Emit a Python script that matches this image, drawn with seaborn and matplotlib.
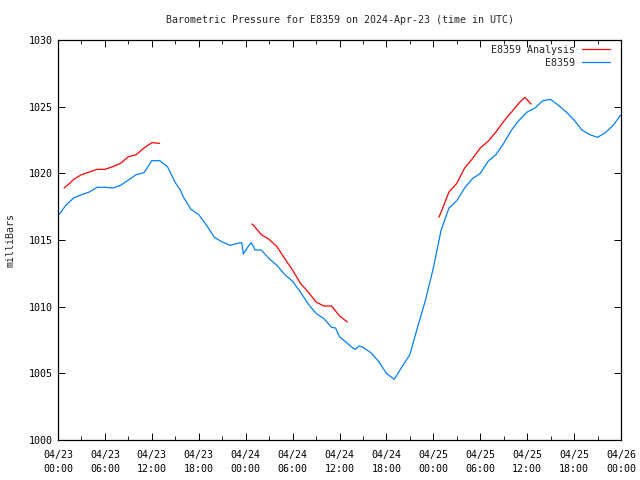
import matplotlib
matplotlib.use("Agg")
import matplotlib.pyplot as plt
from matplotlib.lines import Line2D
import seaborn as sns
import pandas as pd
import numpy as np

# ---- data (hours since 2024-04-23 00:00 UTC) ----
obs_hours = [0, 1, 2, 3, 4, 5, 6, 7, 8, 9, 10, 11, 12, 13, 14, 15, 15.6, 16, 17, 18,
             19, 20, 21, 22, 23, 23.5, 23.7, 24.3, 24.7, 25, 25.2, 26, 27, 28, 29, 30,
             31, 32, 33, 34, 35, 35.5, 36, 37, 37.7, 38, 38.5, 39, 40, 41, 42, 43, 44,
             45, 46, 47, 48, 49, 50, 51, 52, 53, 54, 55, 56, 57, 58, 59, 60, 61, 62,
             63, 64, 65, 66, 67, 68, 69, 70, 71, 72]
obs_values = [1016.8, 1017.6, 1018.15, 1018.4, 1018.6, 1018.95, 1018.95, 1018.9, 1019.1,
              1019.5, 1019.9, 1020.05, 1020.95, 1020.95, 1020.5, 1019.3, 1018.8, 1018.25,
              1017.3, 1016.9, 1016.1, 1015.2, 1014.85, 1014.6, 1014.75, 1014.8, 1013.95,
              1014.5, 1014.8, 1014.5, 1014.25, 1014.25, 1013.6, 1013.1, 1012.4, 1011.9,
              1011.1, 1010.2, 1009.5, 1009.1, 1008.45, 1008.4, 1007.75, 1007.25, 1006.9,
              1006.8, 1007.05, 1006.95, 1006.55, 1005.9, 1005.0, 1004.55, 1005.5, 1006.4,
              1008.5, 1010.5, 1012.9, 1015.75, 1017.4, 1017.95, 1018.9, 1019.6, 1020.0,
              1020.9, 1021.4, 1022.25, 1023.25, 1024.0, 1024.6, 1024.9, 1025.45, 1025.55,
              1025.1, 1024.6, 1024.0, 1023.25, 1022.9, 1022.7, 1023.05, 1023.6, 1024.4]

ana1_hours = [0.77, 1.5, 2, 3, 4, 5, 6, 7, 8, 9, 10, 11, 12, 13]
ana1_values = [1018.9, 1019.25, 1019.55, 1019.9, 1020.1, 1020.3, 1020.3, 1020.5, 1020.75,
               1021.25, 1021.4, 1021.9, 1022.3, 1022.25]
ana2_hours = [24.8, 25, 26, 27, 28, 29, 30, 31, 32, 33, 34, 35, 36, 37]
ana2_values = [1016.2, 1016.1, 1015.4, 1015.05, 1014.5, 1013.6, 1012.75, 1011.75, 1011.1,
               1010.35, 1010.05, 1010.05, 1009.3, 1008.85]
ana3_hours = [48.7, 49, 50, 51, 52, 53, 54, 55, 56, 57, 58, 59, 59.7, 60.5]
ana3_values = [1016.7, 1017.1, 1018.6, 1019.25, 1020.4, 1021.1, 1021.9, 1022.4, 1023.1,
               1023.9, 1024.6, 1025.3, 1025.7, 1025.2]

tick_hours = [0, 6, 12, 18, 24, 30, 36, 42, 48, 54, 60, 66, 72]
tick_labels = ["04/23\n00:00", "04/23\n06:00", "04/23\n12:00", "04/23\n18:00",
               "04/24\n00:00", "04/24\n06:00", "04/24\n12:00", "04/24\n18:00",
               "04/25\n00:00", "04/25\n06:00", "04/25\n12:00", "04/25\n18:00",
               "04/26\n00:00"]
y_ticks = [1000, 1005, 1010, 1015, 1020, 1025, 1030]

title = "Barometric Pressure for E8359 on 2024-Apr-23 (time in UTC)"
ylabel = "milliBars"
obs_name = "E8359"
ana_name = "E8359 Analysis"

# ---- build frames ----
obs_df = pd.DataFrame({"hour": obs_hours, "pressure": obs_values})
ana_df = pd.concat([
    pd.DataFrame({"hour": ana1_hours, "pressure": ana1_values, "seg": 1}),
    pd.DataFrame({"hour": ana2_hours, "pressure": ana2_values, "seg": 2}),
    pd.DataFrame({"hour": ana3_hours, "pressure": ana3_values, "seg": 3}),
], ignore_index=True)

sns.set_style("ticks")
plt.rcParams["font.family"] = ["DejaVu Sans Mono"]

RED = "#ff0000"
BLUE = "#0080ff"
FS = 7.2

fig = plt.figure(figsize=(6.4, 4.8), dpi=100)
ax = fig.add_axes([58 / 640, 1 - 440 / 480, (621 - 58) / 640, 400 / 480])

sns.lineplot(data=obs_df, x="hour", y="pressure", ax=ax, color=BLUE, lw=0.9,
             estimator=None, sort=False)
sns.lineplot(data=ana_df, x="hour", y="pressure", units="seg", ax=ax, color=RED,
             lw=0.9, estimator=None, sort=False)

ax.set_xlim(0, 72)
ax.set_ylim(1000, 1030)
ax.set_xticks(tick_hours)
ax.set_xticklabels(tick_labels, fontsize=FS, linespacing=1.5)
ax.set_xticks(np.arange(3, 72, 6), minor=True)
ax.set_yticks(y_ticks)
ax.set_yticklabels([str(v) for v in y_ticks], fontsize=FS)
ax.tick_params(axis="both", which="major", direction="in", length=5, width=0.7,
               top=True, right=True, pad=4, colors="black")
ax.tick_params(axis="x", which="major", pad=7.5)
ax.tick_params(axis="x", which="minor", direction="in", length=3, width=0.7,
               top=True, bottom=True)
for s in ax.spines.values():
    s.set_visible(True)
    s.set_linewidth(0.9)
    s.set_color("black")

ax.set_xlabel("")
ax.set_ylabel(ylabel, fontsize=FS, labelpad=9)
ax.set_title(title, fontsize=FS, pad=12)

handles = [Line2D([], [], color=RED, lw=0.9), Line2D([], [], color=BLUE, lw=0.9)]
ax.legend(handles, [ana_name, obs_name], loc="upper right",
          bbox_to_anchor=(0.9876, 0.9975), frameon=False,
          markerfirst=False, fontsize=FS, handlelength=2.8, handletextpad=0.7,
          borderaxespad=0.0, borderpad=0.4, labelspacing=0.3, alignment="right")

fig.savefig("out.png", dpi=100)
